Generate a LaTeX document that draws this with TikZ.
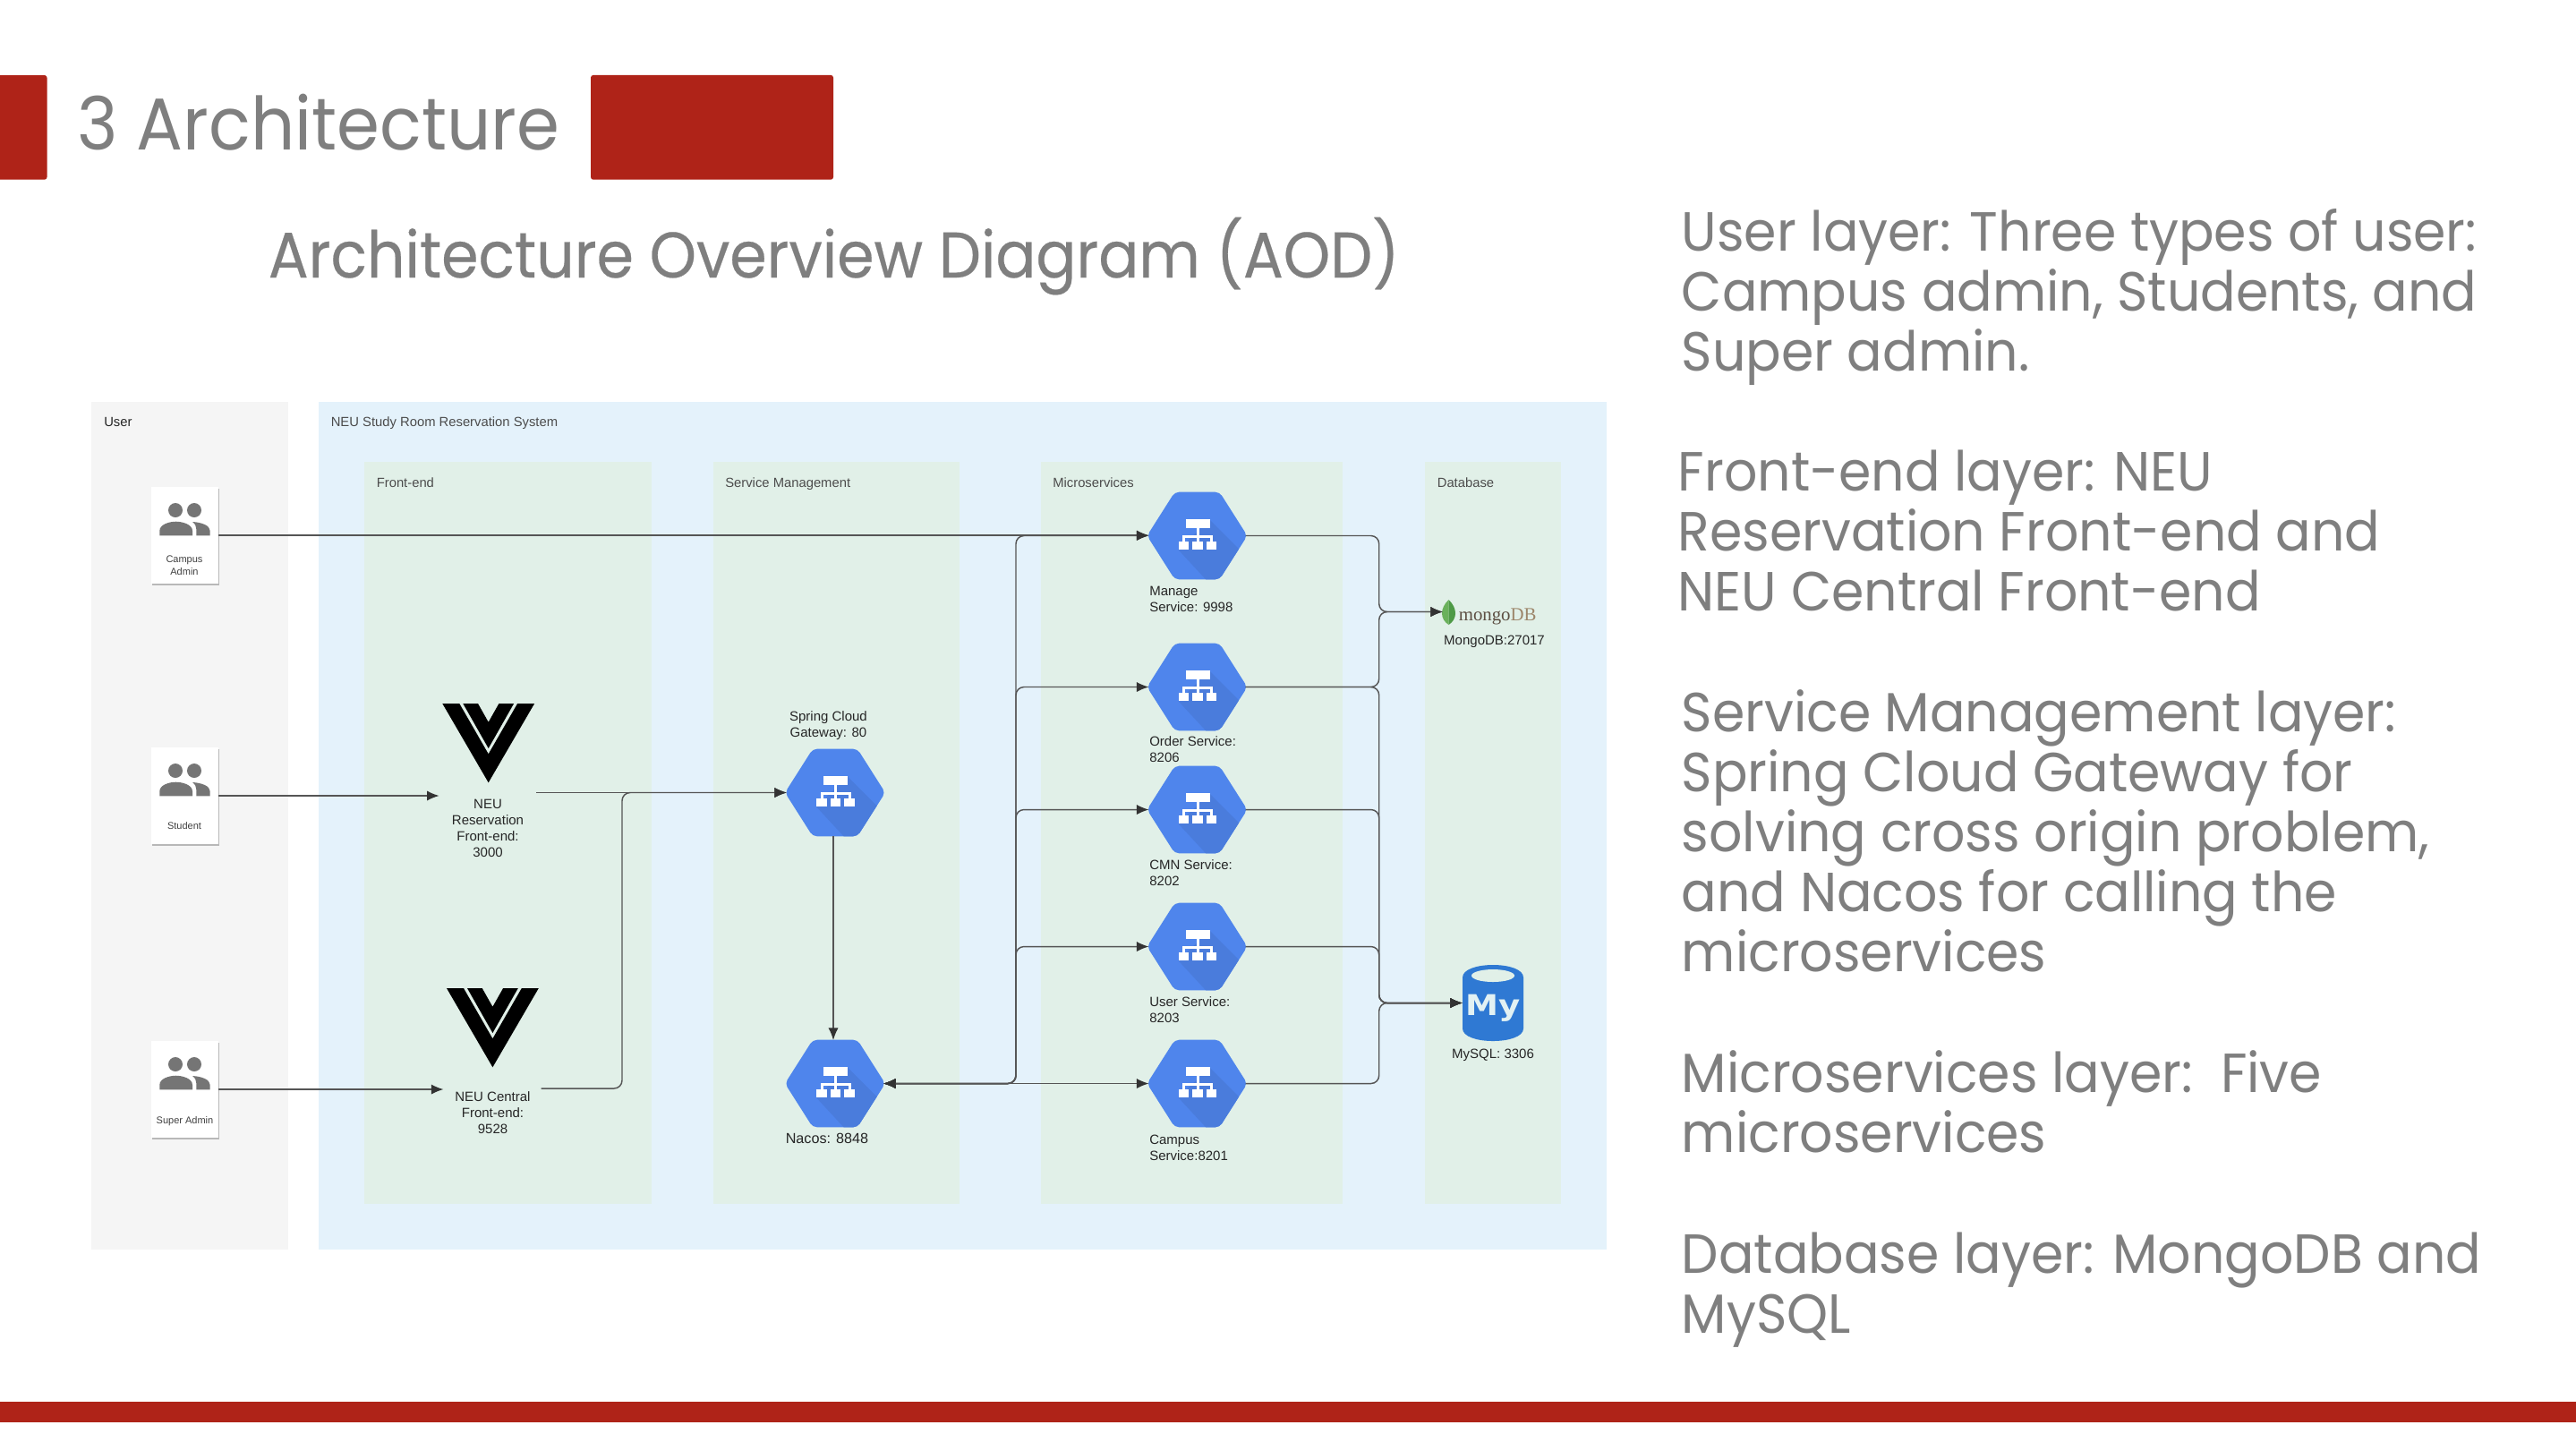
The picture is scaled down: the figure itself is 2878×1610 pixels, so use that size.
\documentclass[tikz,border=0pt]{standalone}
\usepackage{fontspec}
\usetikzlibrary{arrows.meta}
\setmainfont{Liberation Sans}
\newfontfamily\titlefont[FakeStretch=0.94]{Poppins}
\newfontfamily\subtitlefont[FakeStretch=0.925,FakeBold=0.3]{Poppins}
\newfontfamily\bodyfont[FakeStretch=0.95]{Poppins}
\newfontfamily\mongofont{Liberation Serif}
\newfontfamily\myfont[FakeStretch=1.16]{DejaVu Sans}
\definecolor{brick}{HTML}{AF2318}
\definecolor{txtgray}{HTML}{7F7F7F}
\definecolor{userbg}{HTML}{F5F5F5}
\definecolor{sysbg}{HTML}{E4F2FB}
\definecolor{laybg}{HTML}{E1F0E8}
\definecolor{hexblue}{HTML}{4F85EC}
\definecolor{hexdark}{HTML}{4A7CDC}
\definecolor{iconGray}{HTML}{757575}
\definecolor{mysqlblue}{HTML}{2F79D3}
\definecolor{linegray}{HTML}{555555}
\tikzset{
  x=0.25pt,y=-0.25pt,
  panel/.style={inner sep=0pt,outer sep=0pt},
  panellabel/.style={anchor=base west,inner sep=0pt,font=\fontsize{3.7}{4.5}\selectfont,text=#1},
  panellabel/.default={black!70},
  itemlabel/.style={inner sep=0pt,font=\fontsize{3.75}{4.5}\selectfont,text=black!85},
  leftlabel/.style={itemlabel,anchor=north west,align=left},
  centerlabel/.style={itemlabel,anchor=north,align=center},
  cardlabel/.style={inner sep=0pt,anchor=north,align=center,font=\fontsize{2.75}{3.4}\selectfont,text=black!75},
  cardbox/.style={fill=white,inner sep=0pt,outer sep=0pt,minimum width=18.75pt,minimum height=27pt},
  hexbox/.style={inner sep=0pt,outer sep=0pt,minimum width=27pt,minimum height=24.25pt},
  conn/.style={draw=linegray,line width=0.36pt,rounded corners=2.25pt,-{Latex[length=3.4pt,width=2.8pt,color=black!80]}},
  connboth/.style={conn,{Latex[length=3.4pt,width=2.8pt,color=black!80]}-{Latex[length=3.4pt,width=2.8pt,color=black!80]}},
  bodytext/.style={anchor=base west,inner sep=0pt,align=left,text=txtgray,font=\bodyfont\fontsize{15.4}{16.75}\selectfont},
}
% card with people icon
\newcommand{\peoplecard}[3]{%
  \fill[black!28] (#2-37.5+1,#3-54+1.6) rectangle (#2+37.5+1,#3+54+1.6);
  \node[cardbox] (#1) at (#2,#3) {};
  \begin{scope}[shift={(#2-37.5,#3-54)},iconGray]
    \fill (27,26) circle[radius=2pt];
    \fill (48,26) circle[radius=2pt];
    \fill (9.3,54.3) -- (9.3,49) .. controls (9.3,42) and (20,38.7) .. (27.6,38.7)
       .. controls (35,38.7) and (46,42) .. (46,49) -- (46,54.3) -- cycle;
    \fill (46,39) .. controls (56,39.5) and (65.7,43) .. (65.7,49) -- (65.7,54.3)
       -- (50.3,54.3) -- (50.3,47) .. controls (50.3,44) and (49,41) .. (46,39) -- cycle;
  \end{scope}}
% hexagon service icon
\newcommand{\hexservice}[3]{%
  \node[hexbox] (#1) at (#2,#3) {};
  \begin{scope}[shift={(#2,#3)}]
    \begin{scope}
      \clip[rounded corners=1.2pt] (-56,0) -- (-25,-48.8) -- (25,-48.8) -- (56,0) -- (25,48.8) -- (-25,48.8) -- cycle;
      \fill[hexblue] (-60,-60) rectangle (60,60);
      \fill[hexdark] (14,-18) -- (70,38) -- (20,60) -- (-21,15.7) -- cycle;
    \end{scope}
    \fill[white] (-13,-18.3) rectangle (14.2,-9);
    \fill[white] (-1,-9) rectangle (2,7);
    \fill[white] (-16.5,-1) rectangle (17.5,2);
    \fill[white] (-16.5,-1) rectangle (-13.5,7);
    \fill[white] (14.5,-1) rectangle (17.5,7);
    \fill[white] (-20.8,6.7) rectangle (-9.2,15);
    \fill[white] (-5.2,6.7) rectangle (6.2,15);
    \fill[white] (10.2,6.7) rectangle (21.5,15);
  \end{scope}}
% Vue-style logo: top centre at (#1,#2)
\newcommand{\vuelogo}[2]{%
  \begin{scope}[shift={(#1,#2)}]
    \fill[black] (-51.4,0) -- (-32.4,0) -- (0,56.3) -- (32.4,0) -- (51.4,0) -- (0,88.3) -- cycle;
    \fill[black] (-28.4,0) -- (-11.7,0) -- (0,20.7) -- (11.7,0) -- (28.4,0) -- (0,50) -- cycle;
  \end{scope}}
\begin{document}
\begin{tikzpicture}
\useasboundingbox (0,0) rectangle (2878,1610);
\fill[white] (0,0) rectangle (2878,1610);
% header
\fill[brick] (0,84) [rounded corners=0.7pt] -- (52.5,84) -- (52.5,200.7) [sharp corners] -- (0,200.7) -- cycle;
\node[panel,fill=brick,rounded corners=0.7pt,minimum width=67.75pt,minimum height=29.2pt] (redbox) at (795.5,142.3) {};
\fill[brick] (0,1566) rectangle (2878,1589);
\node[anchor=base west,inner sep=0pt,text=txtgray,font=\titlefont\fontsize{20.5}{24}\selectfont] (title) at (86,167) {3 Architecture};
\node[anchor=base west,inner sep=0pt,text=txtgray,font=\subtitlefont\fontsize{18}{22}\selectfont] (subtitle) at (299,310) {Architecture Overview Diagram (AOD)};
% panels
\fill[userbg] (102,449) rectangle (322,1396);
\fill[sysbg] (356,449) rectangle (1795,1396);
\fill[laybg] (407,516) rectangle (728,1345);
\fill[laybg] (796.5,516) rectangle (1072,1345);
\fill[laybg] (1162.5,516) rectangle (1500,1345);
\fill[laybg] (1591.5,516) rectangle (1744,1345);
\node[panellabel=black!85] (luser) at (115.5,476) {User};
\node[panellabel] (lsys) at (369,476) {NEU Study Room Reservation System};
\node[panellabel] (lfe) at (420,544) {Front-end};
\node[panellabel] (lsm) at (809.5,544) {Service Management};
\node[panellabel] (lms) at (1175.5,544) {Microservices};
\node[panellabel] (ldb) at (1605,544) {Database};
% users
\peoplecard{admin}{206.5}{598}
\peoplecard{student}{206.5}{889}
\peoplecard{super}{206.5}{1217}
\node[cardlabel] (ladmin) at (206,620) {Campus\\Admin};
\node[cardlabel] (lstudent) at (206,918) {Student};
\node[cardlabel] (lsuper) at (206.5,1246.5) {Super Admin};
% front-end
\node[panel,minimum width=27.1pt,minimum height=50pt] (vuea) at (544.8,885.5) {};
\node[panel,minimum width=27.3pt,minimum height=56pt] (vueb) at (550.1,1216) {};
\vuelogo{545.7}{786}
\vuelogo{550.4}{1104}
\node[centerlabel] (lvuea) at (545,892) {NEU\\Reservation\\Front-end:\\3000};
\node[centerlabel] (lvueb) at (550.5,1219) {NEU Central\\Front-end:\\9528};
% service management
\hexservice{gateway}{933}{885.5}
\hexservice{nacos}{933}{1210.5}
\node[centerlabel] (lgate) at (925.5,794) {Spring Cloud\\Gateway: 80};
\node[centerlabel,font=\fontsize{4.05}{4.5}\selectfont] (lnacos) at (924,1265) {Nacos: 8848};
% microservices
\hexservice{manage}{1337.5}{598.5}
\hexservice{order}{1337.5}{767.5}
\hexservice{cmn}{1337.5}{904.5}
\hexservice{usersvc}{1337.5}{1057.5}
\hexservice{campus}{1337.5}{1210.5}
\node[leftlabel] (lmanage) at (1283.5,654) {Manage\\Service: 9998};
\node[leftlabel] (lorder) at (1283.5,822) {Order Service:\\8206};
\node[leftlabel] (lcmn) at (1283.5,960) {CMN Service:\\8202};
\node[leftlabel] (lusersvc) at (1283.5,1113) {User Service:\\8203};
\node[leftlabel] (lcampus) at (1283.5,1267) {Campus\\Service:8201};
% database
\node[panel,minimum width=3.25pt,minimum height=7pt] (mongo) at (1618.5,683.5) {};
\fill[fill={rgb,255:red,106;green,177;blue,91}] (1618.5,670) .. controls (1608,680) and (1609,692) .. (1618.5,698) -- cycle;
\fill[fill={rgb,255:red,78;green,154;blue,70}] (1618.5,670) .. controls (1629,680) and (1628,692) .. (1618.5,698) -- cycle;
\node[anchor=base west,inner sep=0pt,font=\mongofont\fontsize{5.2}{6}\selectfont] (mongotxt) at (1629,693) {\textcolor[HTML]{5C4E42}{mongo}\textcolor[HTML]{9C8569}{DB}};
\node[centerlabel] (lmongo) at (1669.5,709.5) {MongoDB:27017};
\node[panel,minimum width=17pt,minimum height=21.25pt] (mysql) at (1668,1120.5) {};
\fill[mysqlblue] (1634,1092) .. controls (1634,1083) and (1650,1078) .. (1668,1078)
   .. controls (1686,1078) and (1702,1083) .. (1702,1092) -- (1702,1149)
   .. controls (1702,1158) and (1686,1163) .. (1668,1163)
   .. controls (1650,1163) and (1634,1158) .. (1634,1149) -- cycle;
\fill[laybg] (1668,1090) ellipse[x radius=24,y radius=7];
\node[inner sep=0pt,text={rgb,255:red,226;green,241;blue,243},font=\myfont\bfseries\fontsize{8}{8}\selectfont] (mytxt) at (1668.5,1126) {My};
\node[centerlabel] (lmysql) at (1668,1171) {MySQL: 3306};
% connector reference columns
\coordinate (busF) at (695,0);
\coordinate (busL) at (1135,0);
\coordinate (busR) at (1540.7,0);
% connectors
\draw[conn] (admin.east) -- (admin.east -| manage.west);
\draw[conn] (student.east) -- (student.east -| vuea.west);
\draw[conn] (super.east) -- (super.east -| vueb.west);
\draw[conn] (vuea.east) -- (gateway.west);
\draw[conn] (vueb.east) -- (vueb.east -| busF) -- (busF |- gateway.west) -- (gateway.west);
\draw[conn] ([xshift=-0.5pt]gateway.south) -- ([xshift=-0.5pt]nacos.north);
\draw[connboth] (nacos.east) -- (campus.west);
\draw[connboth] (nacos.east) -- (nacos.east -| busL) -- (busL |- usersvc.west) -- (usersvc.west);
\draw[connboth] (nacos.east) -- (nacos.east -| busL) -- (busL |- cmn.west) -- (cmn.west);
\draw[connboth] (nacos.east) -- (nacos.east -| busL) -- (busL |- order.west) -- (order.west);
\draw[connboth] (nacos.east) -- (nacos.east -| busL) -- (busL |- manage.west) -- (manage.west);
\draw[conn] (manage.east) -- (manage.east -| busR) -- (busR |- mongo.west) -- (mongo.west);
\draw[conn] (order.east) -- (order.east -| busR) -- (busR |- mongo.west) -- (mongo.west);
\draw[conn] (order.east) -- (order.east -| busR) -- (busR |- mysql.west) -- (mysql.west);
\draw[conn] (cmn.east) -- (cmn.east -| busR) -- (busR |- mysql.west) -- (mysql.west);
\draw[conn] (usersvc.east) -- (usersvc.east -| busR) -- (busR |- mysql.west) -- (mysql.west);
\draw[conn] (campus.east) -- (campus.east -| busR) -- (busR |- mysql.west) -- (mysql.west);
% right-hand text
\node[bodytext] (para1) at (1878,414) {User layer: Three types of user:\\Campus admin, Students, and\\Super admin.};
\node[bodytext] (para2) at (1874,682) {Front-end layer: NEU\\Reservation Front-end and\\NEU Central Front-end};
\node[bodytext] (para3) at (1878,1085) {Service Management layer:\\Spring Cloud Gateway for\\solving cross origin problem,\\and Nacos for calling the\\microservices};
\node[bodytext] (para4) at (1878,1287) {Microservices layer:\ \ Five\\microservices};
\node[bodytext] (para5) at (1878,1489) {Database layer: MongoDB and\\MySQL};
\end{tikzpicture}
\end{document}
